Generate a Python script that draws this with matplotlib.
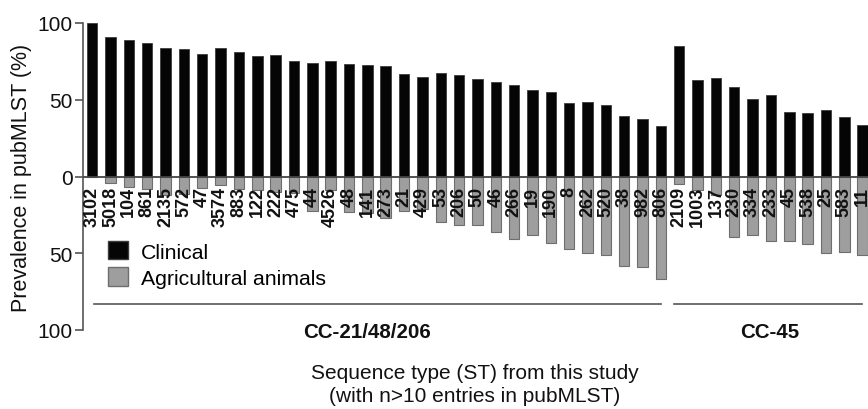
import matplotlib
matplotlib.use("Agg")
import matplotlib.pyplot as plt
from matplotlib.patches import Patch
import numpy as np

plt.rcParams['font.family'] = ['Liberation Sans', 'DejaVu Sans']

st_cc21 = ["3102", "5018", "104", "861", "2135", "572", "47", "3574", "883", "122",
           "222", "475", "44", "4526", "48", "141", "273", "21", "429", "53", "206",
           "50", "46", "266", "19", "190", "8", "262", "520", "38", "982", "806"]
st_cc45 = ["2109", "1003", "137", "230", "334", "233", "45", "538", "25", "583", "11"]

clinical_cc21 = [100, 90.9, 88.7, 86.8, 83.8, 83.1, 79.9, 83.8, 81.0, 78.6, 79.2, 75.5,
                 73.8, 75.5, 73.2, 72.5, 72.1, 66.9, 64.9, 67.3, 66.2, 63.4, 61.7, 59.7,
                 56.5, 55.2, 47.8, 48.3, 46.5, 39.6, 37.7, 33.1]
clinical_cc45 = [84.9, 63.0, 64.3, 58.4, 50.4, 53.0, 42.2, 41.6, 43.3, 38.5, 33.8]

agri_cc21 = [0, 4.5, 6.7, 8.2, 12.1, 11.5, 7.8, 5.5, 8.0, 9.0, 10.0, 11.0, 22.3, 8.9,
             23.2, 24.0, 26.8, 22.3, 21.0, 29.9, 31.6, 31.4, 36.2, 40.9, 38.3, 43.1,
             47.4, 49.8, 51.3, 58.0, 59.1, 67.0]
agri_cc45 = [5.0, 9.0, 12.0, 39.2, 38.3, 42.2, 42.2, 43.9, 49.8, 49.4, 51.3]

groups = ["CC-21/48/206", "CC-45"]
yticks = [100, 50, 0, -50, -100]
ytick_labels = ["100", "50", "0", "50", "100"]

labels = st_cc21 + st_cc45
clinical = np.array(clinical_cc21 + clinical_cc45)
agri = np.array(agri_cc21 + agri_cc45)
x = np.arange(len(labels))

W, H = 868, 410
fig = plt.figure(figsize=(W / 100, H / 100), dpi=100)
ax = fig.add_axes([83 / W, 1 - 331 / H, 1 - 83 / W, (331 - 24) / H])

bw = 0.57
ax.bar(x, clinical, width=bw, color="#050505", edgecolor="#3c3c3c", linewidth=0.6, zorder=2)
ax.bar(x, -agri, width=bw, color="#9e9e9e", edgecolor="#6e6e6e", linewidth=0.8, zorder=2)
ax.axhline(0, color="#444444", lw=1.3, zorder=3)

for xi, lab in zip(x, labels):
    ax.text(xi, -6.3, lab, rotation=90, ha="center", va="top", fontsize=13,
            fontweight="bold", color="#111111", zorder=4)

ax.set_xlim(-0.5, 42.29)
ax.set_ylim(-100, 100)
ax.set_yticks(yticks)
ax.set_yticklabels(ytick_labels, fontsize=15)
ax.set_xticks([])
for s in ["top", "right", "bottom"]:
    ax.spines[s].set_visible(False)
ax.spines["left"].set_color("#555555")
ax.spines["left"].set_linewidth(1.2)
ax.tick_params(axis="y", length=6, width=1.2, color="#555555", pad=1.5, labelcolor="#111111")
ax.set_ylabel("Prevalence in pubMLST (%)", fontsize=15.5, color="#111111", labelpad=4)

# group brackets
n1 = len(st_cc21)
ax.plot([0.1, n1 - 1.0], [-83.1, -83.1], color="#555555", lw=1.2, clip_on=False)
ax.plot([n1 - 0.3, len(labels) - 1.04], [-83.1, -83.1], color="#555555", lw=1.2, clip_on=False)
ax.text(15.0, -100.8, groups[0], ha="center", va="center", fontsize=14.8,
        fontweight="bold", color="#111111", clip_on=False)
ax.text(36.95, -100.8, groups[1], ha="center", va="center", fontsize=14.8,
        fontweight="bold", color="#111111", clip_on=False)

fig.text(475 / W, 1 - 374 / H, "Sequence type (ST) from this study", ha="center",
         va="center", fontsize=15, color="#111111")
fig.text(475 / W, 1 - 397 / H, "(with n>10 entries in pubMLST)", ha="center",
         va="center", fontsize=15, color="#111111")

handles = [Patch(facecolor="#050505", edgecolor="#3c3c3c", label="Clinical"),
           Patch(facecolor="#9e9e9e", edgecolor="#6e6e6e", label="Agricultural animals")]
ax.legend(handles=handles, loc="upper left", bbox_to_anchor=(108 / W, 1 - 242 / H),
          bbox_transform=fig.transFigure, frameon=False, fontsize=15.3, borderpad=0,
          borderaxespad=0, handlelength=0.96, handleheight=0.96, handletextpad=0.6,
          labelspacing=0.27)

fig.savefig("out.png", dpi=100)
